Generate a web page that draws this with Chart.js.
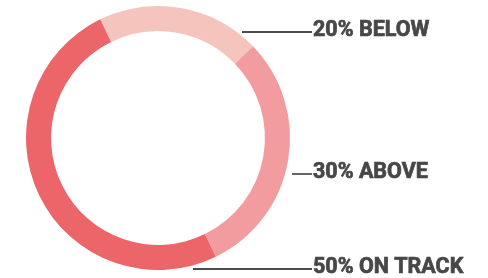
<!DOCTYPE html>
<html>
<head>
<meta charset="utf-8">
<script src="https://cdn.jsdelivr.net/npm/chart.js@4"></script>
<style>
  html, body { margin: 0; padding: 0; background: #fff; }
  #wrap { width: 488px; height: 278px; position: relative; }
</style>
</head>
<body>
<div id="wrap"><canvas id="statusChart"></canvas></div>
<script>
const labels = ['20% BELOW', '30% ABOVE', '50% ON TRACK'];
const shares = [20, 30, 50];
const colors = ['#f5c4bd', '#f29c9f', '#ec6569'];

// where each callout sits: y of the line, x where the line starts
const calloutY = [32, 174, 269];
const calloutStartX = [242, 292, 193];

const calloutPlugin = {
  id: 'callouts',
  afterDraw(chart) {
    const ctx = chart.ctx;
    const textX = 312;
    ctx.save();
    ctx.font = 'bold 21.5px Roboto, "Noto Sans", sans-serif';
    ctx.textBaseline = 'alphabetic';
    ctx.fillStyle = '#474747';
    ctx.lineWidth = 1.3;
    labels.forEach((label, i) => {
      const y = calloutY[i];
      ctx.strokeStyle = '#111';
      ctx.lineWidth = 1.3;
      ctx.beginPath();
      ctx.moveTo(calloutStartX[i], y);
      ctx.lineTo(textX, y);
      ctx.stroke();
      // a thin outline makes the lettering as heavy as the original
      ctx.strokeStyle = '#474747';
      ctx.lineWidth = 0.7;
      ctx.strokeText(label, textX + 1, y + 4);
      ctx.fillText(label, textX + 1, y + 4);
    });
    ctx.restore();
  }
};

new Chart(document.getElementById('statusChart'), {
  type: 'doughnut',
  data: {
    labels: labels,
    datasets: [{
      data: shares,
      backgroundColor: colors,
      borderWidth: 0
    }]
  },
  options: {
    responsive: true,
    maintainAspectRatio: false,
    animation: false,
    rotation: -26,
    cutout: '81%',
    layout: { padding: { left: 26, top: 6, bottom: 8, right: 198 } },
    plugins: {
      legend: { display: false },
      tooltip: { enabled: false }
    }
  },
  plugins: [calloutPlugin]
});
</script>
</body>
</html>
